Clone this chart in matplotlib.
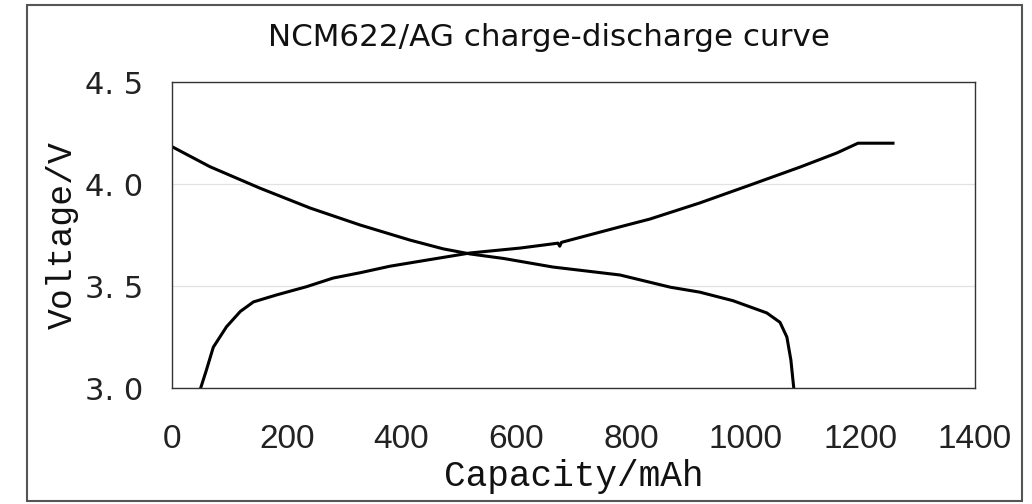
import matplotlib
matplotlib.use('Agg')
import matplotlib.pyplot as plt
from matplotlib.patches import Rectangle

# discharge curve (mAh, V)
discharge_cap = [0, 66, 153, 241, 328, 415, 473, 520, 578, 664, 781, 869,
                 920, 978, 1037, 1060, 1072, 1079, 1084]
discharge_v = [4.183, 4.085, 3.98, 3.882, 3.799, 3.725, 3.682, 3.657, 3.635,
               3.593, 3.554, 3.494, 3.47, 3.428, 3.368, 3.322, 3.25, 3.137, 3.0]

# charge curve (mAh, V)
charge_cap = [50, 60, 72, 95, 119, 142, 182, 235, 281, 328, 380, 440, 520,
              607, 673, 676, 679, 781, 833, 920, 1008, 1095, 1159, 1196, 1257]
charge_v = [3.0, 3.088, 3.2, 3.30, 3.375, 3.422, 3.456, 3.497, 3.539, 3.565,
            3.597, 3.625, 3.662, 3.686, 3.71, 3.695, 3.714, 3.79, 3.828, 3.907,
            3.995, 4.083, 4.152, 4.20, 4.20]

x_ticks = [0, 200, 400, 600, 800, 1000, 1200, 1400]
y_ticks = [3.0, 3.5, 4.0, 4.5]
y_tick_labels = ['3. 0', '3. 5', '4. 0', '4. 5']

fig = plt.figure(figsize=(10.32, 5.04), dpi=100)
ax = fig.add_axes([172/1032, 1 - 388/504, (975 - 172)/1032, (388 - 82)/504])

ax.plot(discharge_cap, discharge_v, color='black', lw=2.2, solid_joinstyle='round')
ax.plot(charge_cap, charge_v, color='black', lw=2.2, solid_joinstyle='round')

ax.set_xlim(0, 1400)
ax.set_ylim(3.0, 4.5)
ax.set_xticks(x_ticks)
ax.set_yticks(y_ticks)
ax.set_yticklabels(y_tick_labels)
ax.tick_params(length=0)
ax.tick_params(axis='x', pad=26, labelsize=24, colors='#222222')
ax.tick_params(axis='y', pad=21, labelsize=22, colors='#222222')
for lab in ax.get_xticklabels():
    lab.set_family('Liberation Sans')
for lab in ax.get_yticklabels():
    lab.set_family('DejaVu Sans')

ax.grid(axis='y', color='#e2e2e2', lw=0.9)
ax.set_axisbelow(True)
for sp in ax.spines.values():
    sp.set_color('#333333')
    sp.set_linewidth(1.0)

ax.set_xlabel('Capacity/mAh', family='Liberation Mono', fontsize=26,
              color='#111111', labelpad=3)
ax.set_ylabel('Voltage/V', family='Liberation Mono', fontsize=25,
              color='#111111')
ax.yaxis.set_label_coords(-0.116, 0.5)

fig.text(549/1032, 1 - 37/504, 'NCM622/AG charge-discharge curve',
         family='DejaVu Sans', fontsize=22.3, ha='center', va='center',
         color='#111111')

# outer frame
fig.patches.append(Rectangle((27/1032, 3/504), (1022 - 27)/1032, (499 - 3)/504,
                             transform=fig.transFigure, fill=False,
                             edgecolor='#555555', lw=1.5))

fig.savefig('out.png', dpi=100)
